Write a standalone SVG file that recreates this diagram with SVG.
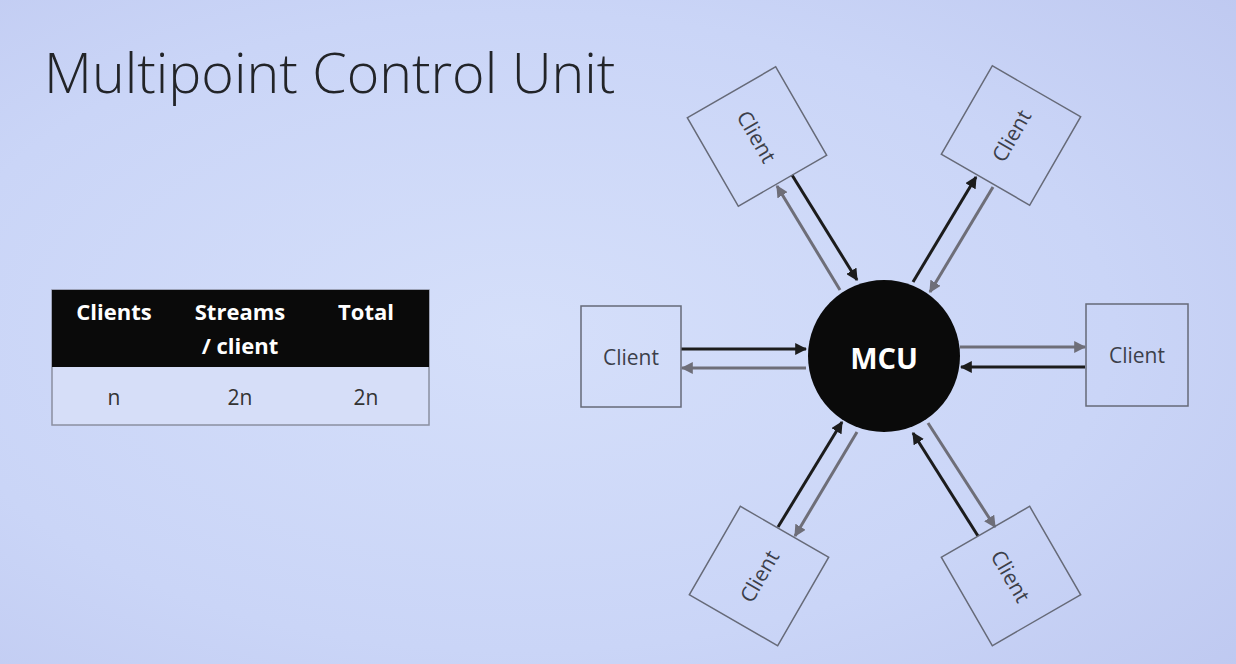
<svg xmlns="http://www.w3.org/2000/svg" width="1236" height="664" viewBox="0 0 1236 664">
<defs>
<radialGradient id="bg" cx="0.42" cy="0.5" r="0.8">
<stop offset="0" stop-color="#d5dffa"/>
<stop offset="0.6" stop-color="#cad5f7"/>
<stop offset="1" stop-color="#bec8f0"/>
</radialGradient>
<marker id="ab" viewBox="0 0 10 10" refX="9" refY="5" markerWidth="4" markerHeight="4" orient="auto" markerUnits="strokeWidth">
<path d="M0,0 L10,5 L0,10 z" fill="#1c1c1c"/>
</marker>
<marker id="ag" viewBox="0 0 10 10" refX="9" refY="5" markerWidth="4" markerHeight="4" orient="auto" markerUnits="strokeWidth">
<path d="M0,0 L10,5 L0,10 z" fill="#6e6e78"/>
</marker>
</defs>
<style>
.box{fill:none;stroke:#666a78;stroke-width:1.5}
.lbl{font-family:"Open Sans","Liberation Sans",sans-serif;font-size:21px;fill:#3c3f4a;text-anchor:middle;dominant-baseline:central}
.blk{stroke:#1c1c1c;stroke-width:3;fill:none;marker-end:url(#ab)}
.gry{stroke:#6e6e78;stroke-width:3;fill:none;marker-end:url(#ag)}
.th{font-family:"Open Sans","Liberation Sans",sans-serif;font-weight:700;font-size:22px;fill:#ffffff;text-anchor:middle}
.td{font-family:"Open Sans","Liberation Sans",sans-serif;font-size:21px;fill:#333333;text-anchor:middle}
</style>
<rect width="1236" height="664" fill="url(#bg)"/>
<text x="44" y="93" font-family="Open Sans, Liberation Sans, sans-serif" font-weight="300" font-size="55.5" fill="#222428">Multipoint Control Unit</text>
<g id="table">
<rect x="52" y="290" width="377" height="135" fill="#d6def8" stroke="#8a8fa0" stroke-width="1.5"/>
<rect x="52" y="290" width="377" height="77" fill="#0a0a0a"/>
<text class="th" x="114" y="320">Clients</text>
<text class="th" x="240" y="320">Streams</text>
<text class="th" x="240" y="354">/ client</text>
<text class="th" x="366" y="320">Total</text>
<text class="td" x="114" y="405">n</text>
<text class="td" x="240" y="405">2n</text>
<text class="td" x="366" y="405">2n</text>
</g>
<g id="connectors">
<line class="blk" x1="681" y1="349" x2="806" y2="349"/>
<line class="gry" x1="806" y1="368" x2="682" y2="368"/>
<line class="gry" x1="960" y1="347" x2="1085" y2="347"/>
<line class="blk" x1="1085" y1="367" x2="961" y2="367"/>
<line class="blk" x1="792" y1="175" x2="857" y2="280"/>
<line class="gry" x1="840" y1="290" x2="777" y2="186"/>
<line class="blk" x1="913" y1="282" x2="976" y2="177"/>
<line class="gry" x1="993" y1="187" x2="930" y2="292"/>
<line class="blk" x1="778" y1="527" x2="842" y2="422"/>
<line class="gry" x1="857" y1="432" x2="795" y2="536"/>
<line class="blk" x1="978" y1="536" x2="913" y2="433"/>
<line class="gry" x1="928" y1="423" x2="995" y2="527"/>
</g>
<g id="mcu">
<circle cx="884" cy="356" r="76" fill="#0a0a0a"/>
<text x="884" y="357" font-family="Open Sans, Liberation Sans, sans-serif" font-weight="700" font-size="29" fill="#ffffff" text-anchor="middle" dominant-baseline="central">MCU</text>
</g>
<g id="client-left">
<rect class="box" x="581" y="306" width="100" height="101"/>
<text class="lbl" x="631" y="357">Client</text>
</g>
<g id="client-right">
<rect class="box" x="1086" y="304" width="102" height="102"/>
<text class="lbl" x="1137" y="355">Client</text>
</g>
<g id="client-top-left" transform="translate(757,136.5) rotate(60)">
<rect class="box" x="-51" y="-51" width="102" height="102"/>
<text class="lbl" x="0" y="0">Client</text>
</g>
<g id="client-top-right" transform="translate(1011,135.5) rotate(-60)">
<rect class="box" x="-51" y="-51" width="102" height="102"/>
<text class="lbl" x="0" y="0">Client</text>
</g>
<g id="client-bottom-left" transform="translate(759,576) rotate(-60)">
<rect class="box" x="-51" y="-51" width="102" height="102"/>
<text class="lbl" x="0" y="0">Client</text>
</g>
<g id="client-bottom-right" transform="translate(1011,576) rotate(60)">
<rect class="box" x="-51" y="-51" width="102" height="102"/>
<text class="lbl" x="0" y="0">Client</text>
</g>
</svg>
